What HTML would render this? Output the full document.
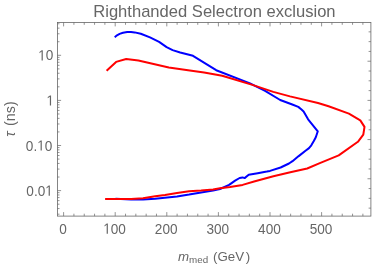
<!DOCTYPE html>
<html><head><meta charset="utf-8"><style>html,body{margin:0;padding:0;background:#fff;}svg{display:block;will-change:transform}</style></head><body><svg width="374" height="265" viewBox="0 0 374 265" font-family="'Liberation Sans', sans-serif">
<rect width="374" height="265" fill="#fff"/>
<rect x="57.5" y="22.4" width="313.40" height="193.70" fill="none" stroke="#666" stroke-width="0.8"/>
<path d="M63.60 216.1v-4.0M63.60 22.4v4.0M73.92 216.1v-2.4M73.92 22.4v2.4M84.24 216.1v-2.4M84.24 22.4v2.4M94.56 216.1v-2.4M94.56 22.4v2.4M104.88 216.1v-2.4M104.88 22.4v2.4M115.20 216.1v-4.0M115.20 22.4v4.0M125.52 216.1v-2.4M125.52 22.4v2.4M135.84 216.1v-2.4M135.84 22.4v2.4M146.16 216.1v-2.4M146.16 22.4v2.4M156.48 216.1v-2.4M156.48 22.4v2.4M166.80 216.1v-4.0M166.80 22.4v4.0M177.12 216.1v-2.4M177.12 22.4v2.4M187.44 216.1v-2.4M187.44 22.4v2.4M197.76 216.1v-2.4M197.76 22.4v2.4M208.08 216.1v-2.4M208.08 22.4v2.4M218.40 216.1v-4.0M218.40 22.4v4.0M228.72 216.1v-2.4M228.72 22.4v2.4M239.04 216.1v-2.4M239.04 22.4v2.4M249.36 216.1v-2.4M249.36 22.4v2.4M259.68 216.1v-2.4M259.68 22.4v2.4M270.00 216.1v-4.0M270.00 22.4v4.0M280.32 216.1v-2.4M280.32 22.4v2.4M290.64 216.1v-2.4M290.64 22.4v2.4M300.96 216.1v-2.4M300.96 22.4v2.4M311.28 216.1v-2.4M311.28 22.4v2.4M321.60 216.1v-4.0M321.60 22.4v4.0M331.92 216.1v-2.4M331.92 22.4v2.4M342.24 216.1v-2.4M342.24 22.4v2.4M352.56 216.1v-2.4M352.56 22.4v2.4M362.88 216.1v-2.4M362.88 22.4v2.4M57.5 214.18h2.0M57.5 208.55h2.0M57.5 204.18h2.0M57.5 200.61h2.0M57.5 197.59h2.0M57.5 194.97h2.0M57.5 192.66h2.0M57.5 190.60h3.6M57.5 177.02h2.0M57.5 169.08h2.0M57.5 163.45h2.0M57.5 159.08h2.0M57.5 155.51h2.0M57.5 152.49h2.0M57.5 149.87h2.0M57.5 147.56h2.0M57.5 145.50h3.6M57.5 131.92h2.0M57.5 123.98h2.0M57.5 118.35h2.0M57.5 113.98h2.0M57.5 110.41h2.0M57.5 107.39h2.0M57.5 104.77h2.0M57.5 102.46h2.0M57.5 100.40h3.6M57.5 86.82h2.0M57.5 78.88h2.0M57.5 73.25h2.0M57.5 68.88h2.0M57.5 65.31h2.0M57.5 62.29h2.0M57.5 59.67h2.0M57.5 57.36h2.0M57.5 55.30h3.6M57.5 41.72h2.0M57.5 33.78h2.0M57.5 28.15h2.0M57.5 23.78h2.0M370.9 31.85h-2.3M370.9 41.64h-2.3M370.9 51.43h-2.3M370.9 61.23h-3.4M370.9 71.02h-2.3M370.9 80.81h-2.3M370.9 90.61h-2.3M370.9 100.40h-3.4M370.9 110.19h-2.3M370.9 119.99h-2.3M370.9 129.78h-2.3M370.9 139.57h-3.4M370.9 149.37h-2.3M370.9 159.16h-2.3M370.9 168.95h-2.3M370.9 178.75h-3.4M370.9 188.54h-2.3M370.9 198.33h-2.3M370.9 208.13h-2.3" stroke="#666" stroke-width="0.7" fill="none"/>
<polyline points="114.7,37.2 117,35.3 119.6,33.9 123,32.8 127.2,32.1 131,32.0 134.7,32.4 140.8,33.8 150,37.4 159.1,41.9 166.6,47.1 172.6,50.1 180.2,52.5 193,55.8 206,63.8 216.2,70.2 250,83.4 265.1,90.9 280.2,100.0 292.3,104.5 298.3,106.9 301.5,109.5 303.6,111.4 308.1,119.3 317.8,131.3 315.8,137.3 313.8,141.0 311.3,145.3 309.0,148.1 305.5,150.8 298.7,156.1 292.5,161.2 289.0,163.5 280.6,167.5 270,170.9 266.8,171.6 257.7,173.3 248.7,174.8 244.6,178.1 242.6,177.4 239.6,178.0 235.1,180.6 229.1,184.9 220,189.0 213.1,190.6 201.1,192.4 189.1,194.6 177,196.5 167.2,197.6 155.2,198.7 143.1,199.4 131.1,199.6 115.5,198.8" fill="none" stroke="#00f" stroke-width="2.0" stroke-linejoin="round" stroke-linecap="butt"/>
<polyline points="106.6,70.8 116.1,61.9 126.2,59.0 138.4,60.5 168.8,67.5 189.8,70.6 204.1,72.6 222.2,75.7 252.4,84.9 273.3,91.9 290,96.4 318,103.0 328.6,106.3 348.9,113.6 360.3,120.4 364.5,126.9 363.3,134.7 357.9,141.8 338.7,155.4 319.8,163.2 307.2,168.5 290.3,172.3 273.4,176.2 254.1,181.5 242.6,184.9 230,187.0 220,188.3 213.1,189.6 201.1,190.6 189.1,191.3 177,193.0 165,194.9 155.2,196.2 143,198.2 131.1,199.1 105.1,199.1" fill="none" stroke="#f00" stroke-width="2.0" stroke-linejoin="round" stroke-linecap="butt"/>
<g fill="#666" font-family="'Liberation Sans', sans-serif"><g transform="translate(63.00 233.70) scale(1 1.08)"><text x="-3.782" y="0" font-size="13.6">0</text></g><g transform="translate(114.60 233.70) scale(1 1.08)"><path transform="translate(-11.346 0) scale(0.006641 -0.006641)" d="M515 0V1237L197 1010V1180L530 1409H696V0Z"/><text x="-3.782" y="0" font-size="13.6">0</text><text x="3.782" y="0" font-size="13.6">0</text></g><g transform="translate(166.20 233.70) scale(1 1.08)"><text x="-11.346" y="0" font-size="13.6">2</text><text x="-3.782" y="0" font-size="13.6">0</text><text x="3.782" y="0" font-size="13.6">0</text></g><g transform="translate(217.80 233.70) scale(1 1.08)"><text x="-11.346" y="0" font-size="13.6">3</text><text x="-3.782" y="0" font-size="13.6">0</text><text x="3.782" y="0" font-size="13.6">0</text></g><g transform="translate(269.40 233.70) scale(1 1.08)"><text x="-11.346" y="0" font-size="13.6">4</text><text x="-3.782" y="0" font-size="13.6">0</text><text x="3.782" y="0" font-size="13.6">0</text></g><g transform="translate(321.00 233.70) scale(1 1.08)"><text x="-11.346" y="0" font-size="13.6">5</text><text x="-3.782" y="0" font-size="13.6">0</text><text x="3.782" y="0" font-size="13.6">0</text></g><g transform="translate(53.30 60.40) scale(1 1.08)"><path transform="translate(-15.127 0) scale(0.006641 -0.006641)" d="M515 0V1237L197 1010V1180L530 1409H696V0Z"/><text x="-7.564" y="0" font-size="13.6">0</text></g><g transform="translate(54.00 105.50) scale(1 1.08)"><path transform="translate(-7.564 0) scale(0.006641 -0.006641)" d="M515 0V1237L197 1010V1180L530 1409H696V0Z"/></g><g transform="translate(52.30 150.60) scale(1 1.08)"><text x="-26.470" y="0" font-size="13.6">0</text><text x="-18.906" y="0" font-size="13.6">.</text><path transform="translate(-15.127 0) scale(0.006641 -0.006641)" d="M515 0V1237L197 1010V1180L530 1409H696V0Z"/><text x="-7.564" y="0" font-size="13.6">0</text></g><g transform="translate(52.80 195.70) scale(1 1.08)"><text x="-26.470" y="0" font-size="13.6">0</text><text x="-18.906" y="0" font-size="13.6">.</text><text x="-15.127" y="0" font-size="13.6">0</text><path transform="translate(-7.564 0) scale(0.006641 -0.006641)" d="M515 0V1237L197 1010V1180L530 1409H696V0Z"/></g><text transform="translate(214.4 16.6) scale(1.05 1)" text-anchor="middle" font-size="15.8">Righthanded Selectron exclusion</text><text x="178" y="260.6" font-size="13.3"><tspan font-style="italic">m</tspan><tspan font-size="9.8" dy="2.2">med</tspan><tspan dy="-2.2" dx="1.2"> (GeV</tspan><tspan dx="1.6">)</tspan></text><text transform="translate(14.6 119.0) rotate(-90)" text-anchor="middle" font-size="14.3"><tspan font-style="italic">τ</tspan><tspan dx="1.5"> (ns)</tspan></text></g>
</svg></body></html>
